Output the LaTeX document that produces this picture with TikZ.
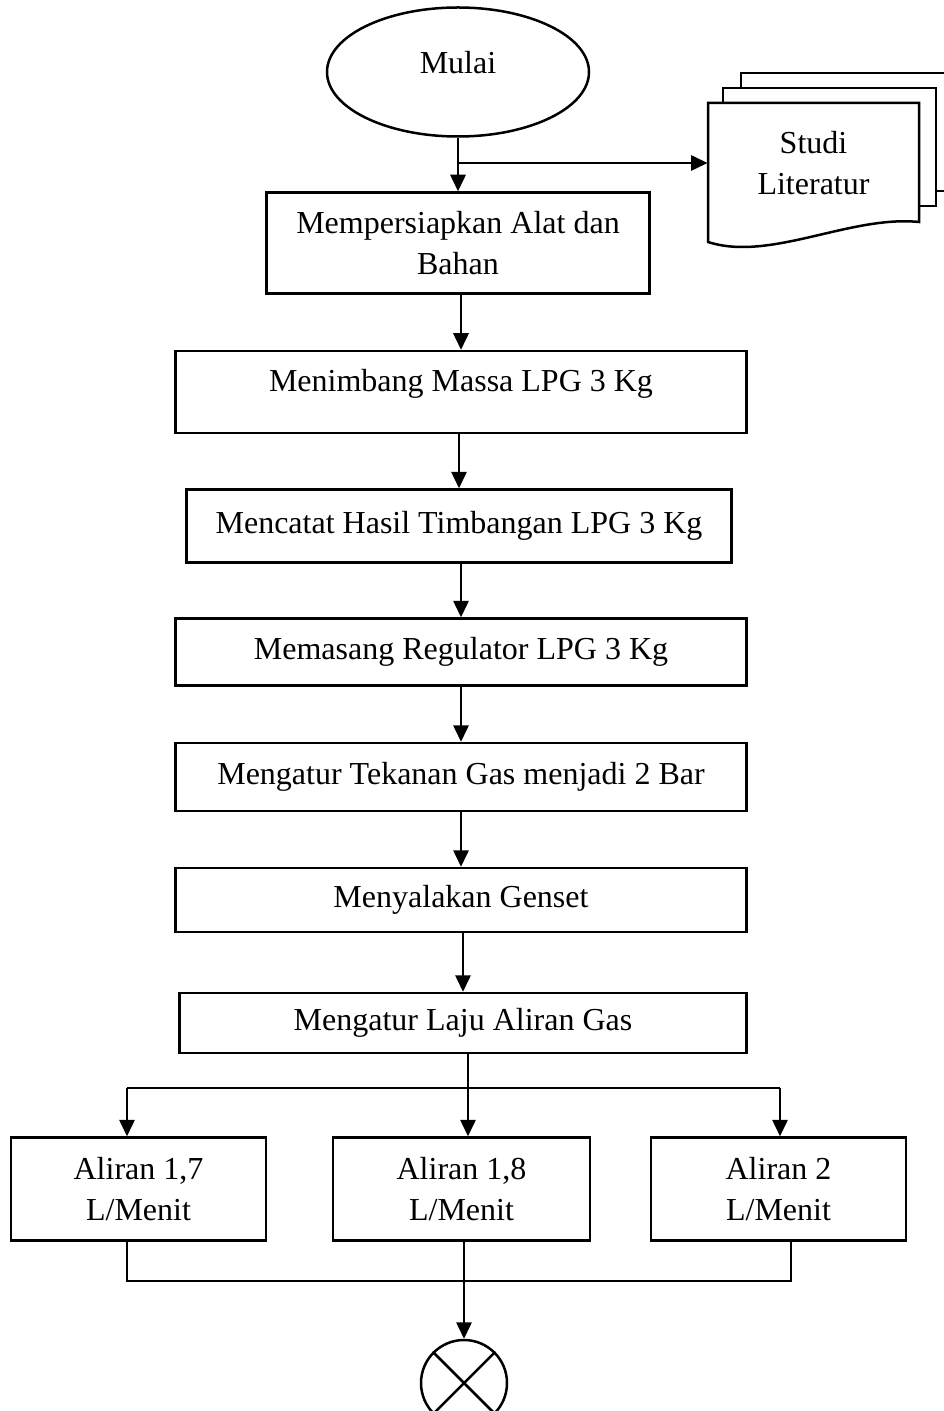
\documentclass[tikz,border=0pt]{standalone}
\usepackage{fontspec}
\setmainfont{Liberation Serif}
\usetikzlibrary{shapes.geometric,arrows.meta,positioning}

\newcommand{\pxu}{0.4pt}

\begin{document}
\begin{tikzpicture}[
			x=0.4pt, y=-0.4pt,
			font=\fontsize{12.8}{16.4}\selectfont,
			box/.style 2 args = {draw, rectangle, line width=1pt, inner sep=0pt, align=center,
				minimum width=#1*\pxu, minimum height=#2*\pxu},
			terminal/.style = {draw, ellipse, line width=1pt, inner sep=0pt},
			arrow/.style = {line width=0.6pt, -{Triangle[length=6.6pt,width=6.2pt]}},
			line/.style = {line width=0.6pt},
			edge/.style = {line width=1pt}
		]
		\useasboundingbox (0,0) rectangle (944,1411);

		% alur utama
		\node[terminal, minimum width=262*\pxu, minimum height=129*\pxu, text depth=8pt] (mulai) at (458,72) {Mulai};
		\node[box={383}{101}] (persiapan) at (458,243) {Mempersiapkan Alat dan\\Bahan};
		\node[box={571}{82}, text depth=9pt] (timbang) at (461,392) {Menimbang Massa LPG 3 Kg};
		\node[box={545}{73}] (catat) at (459,526) {Mencatat Hasil Timbangan LPG 3 Kg};
		\node[box={571}{67}] (regulator) at (461,652) {Memasang Regulator LPG 3 Kg};
		\node[box={571}{68}] (tekanan) at (461,777) {Mengatur Tekanan Gas menjadi 2 Bar};
		\node[box={571}{64}] (genset) at (461,900) {Menyalakan Genset};
		\node[box={567}{60}] (laju) at (463,1023) {Mengatur Laju Aliran Gas};

		% tiga variasi aliran
		\node[box={255}{103}] (aliranA) at (138.5,1189) {Aliran 1,7\\L/Menit};
		\node[box={257}{103}] (aliranB) at (461.5,1189) {Aliran 1,8\\L/Menit};
		\node[box={255}{103}] (aliranC) at (778.5,1189) {Aliran 2\\L/Menit};
		\node[circle, draw, line width=1pt, minimum size=86*\pxu, inner sep=0pt] (selesai) at (464,1383) {};
		\draw[edge] (selesai.north west) -- (selesai.south east)
			(selesai.north east) -- (selesai.south west);

		% dokumen studi literatur (tumpukan tiga lembar)
		\draw[edge] (741,88) |- (960,73);
		\draw[edge] (936,191) -- (960,191);
		\draw[edge, fill=white] (723,103) |- (936,88) |- (919,206);
		\draw[edge, fill=white] (708,242) |- (919,103) -- (919,222)
			.. controls (850,215) and (770,262) .. (708,242) -- cycle;
		\node[minimum width=211*\pxu, minimum height=120*\pxu, inner sep=0pt, align=center] (studi) at (813.5,163) {Studi\\Literatur};

		\draw[arrow] (mulai) -- (persiapan);
		\draw[arrow] (mulai.south |- studi) -- (studi.west);
		\draw[arrow] (persiapan.south -| timbang) -- (timbang.north);
		\draw[arrow] (timbang.south -| catat) -- (catat.north);
		\draw[arrow] (catat.south -| regulator) -- (regulator.north);
		\draw[arrow] (regulator) -- (tekanan);
		\draw[arrow] (tekanan) -- (genset);
		\draw[arrow] (genset.south -| laju) -- (laju.north);

		% percabangan
		\coordinate (split) at (468,1088);
		\coordinate (toA) at (127,1088);
		\coordinate (toC) at (780,1088);
		\draw[line] (laju.south -| split) -- (split);
		\draw[line] (toA) -- (toC);
		\draw[arrow] (toA) -- (toA |- aliranA.north);
		\draw[arrow] (split) -- (split |- aliranB.north);
		\draw[arrow] (toC) -- (toC |- aliranC.north);

		% penggabungan
		\coordinate (joinA) at (127,1281);
		\coordinate (joinC) at (791,1281);
		\coordinate (join) at (464,1281);
		\draw[line] (aliranA.south -| joinA) -- (joinA) -- (joinC) -- (joinC |- aliranC.south);
		\draw[arrow] (join |- aliranB.south) -- (selesai);
	\end{tikzpicture}
\end{document}
